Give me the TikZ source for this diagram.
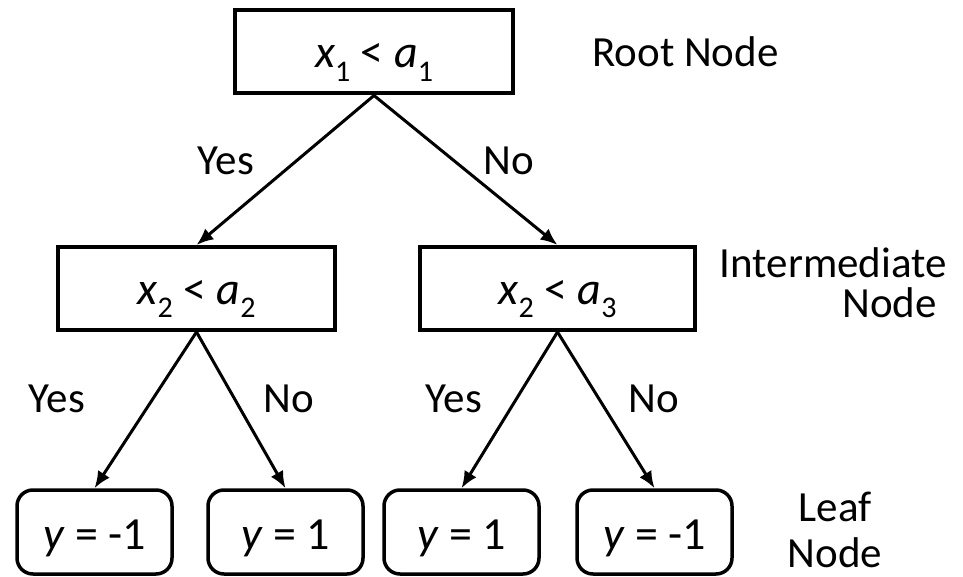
\documentclass[tikz,border=0pt]{standalone}
\usepackage{fontspec}
\setmainfont{Carlito}
\usetikzlibrary{arrows.meta}
\newcommand{\mv}[1]{\textit{#1}}
\newcommand{\sbs}[1]{\raisebox{-0.3em}{\fontsize{30}{30}\selectfont #1}}
\tikzset{
  testbox/.style={draw, line width=4pt, rectangle, inner sep=0pt,
    minimum height=83pt, font=\fontsize{46}{50}\selectfont, text height=31pt, text depth=0pt},
  leafbox/.style={draw, line width=3.5pt, rectangle, rounded corners=16pt, inner sep=0pt,
    minimum width=155pt, minimum height=84pt, font=\fontsize{46}{50}\selectfont, text height=34pt, text depth=0pt},
  edge/.style={line width=3pt, -{Latex[length=17pt,width=14pt]}},
  lbl/.style={font=\fontsize{43}{50}\selectfont, inner sep=0pt, anchor=base}
}
\begin{document}
\begin{tikzpicture}[x=1pt,y=-1pt]
\useasboundingbox (0,0) rectangle (963,577);
\node[testbox, minimum width=278pt] (root) at (374,52) {\mv{x}\sbs{1} < \mv{a}\sbs{1}};
\node[testbox, minimum width=277pt] (L) at (196.5,288.5) {\mv{x}\sbs{2} < \mv{a}\sbs{2}};
\node[testbox, minimum width=275pt] (R) at (557.5,288.5) {\mv{x}\sbs{2} < \mv{a}\sbs{3}};
\node[leafbox] (l1) at (94.5,532) {\mv{y} = -1};
\node[leafbox] (l2) at (285.5,532) {\mv{y} = 1};
\node[leafbox] (l3) at (461.5,532) {\mv{y} = 1};
\node[leafbox] (l4) at (654.5,532) {\mv{y} = -1};
\draw[edge] (root.south) -- (L.north);
\draw[edge] (root.south) -- (R.north);
\draw[edge] (L.south) -- (l1.north);
\draw[edge] (L.south) -- (l2.north);
\draw[edge] (R.south) -- (l3.north);
\draw[edge] (R.south) -- (l4.north);
\node[lbl] (y0) at (226,175) {Yes};
\node[lbl] (n0) at (509,175) {No};
\node[lbl] (y1) at (57,412) {Yes};
\node[lbl] (n1) at (289,412) {No};
\node[lbl] (y2) at (454,412) {Yes};
\node[lbl] (n2) at (654,412) {No};
\node[lbl, anchor=base west] (rootlbl) at (592,67) {Root Node};
\node[lbl, anchor=base east] (intlblA) at (947,277) {Intermediate};
\node[lbl, anchor=base east] (intlblB) at (937,317) {Node};
\node[lbl] (leaflblA) at (835,521) {Leaf};
\node[lbl] (leaflblB) at (835,567) {Node};
\end{tikzpicture}
\end{document}
